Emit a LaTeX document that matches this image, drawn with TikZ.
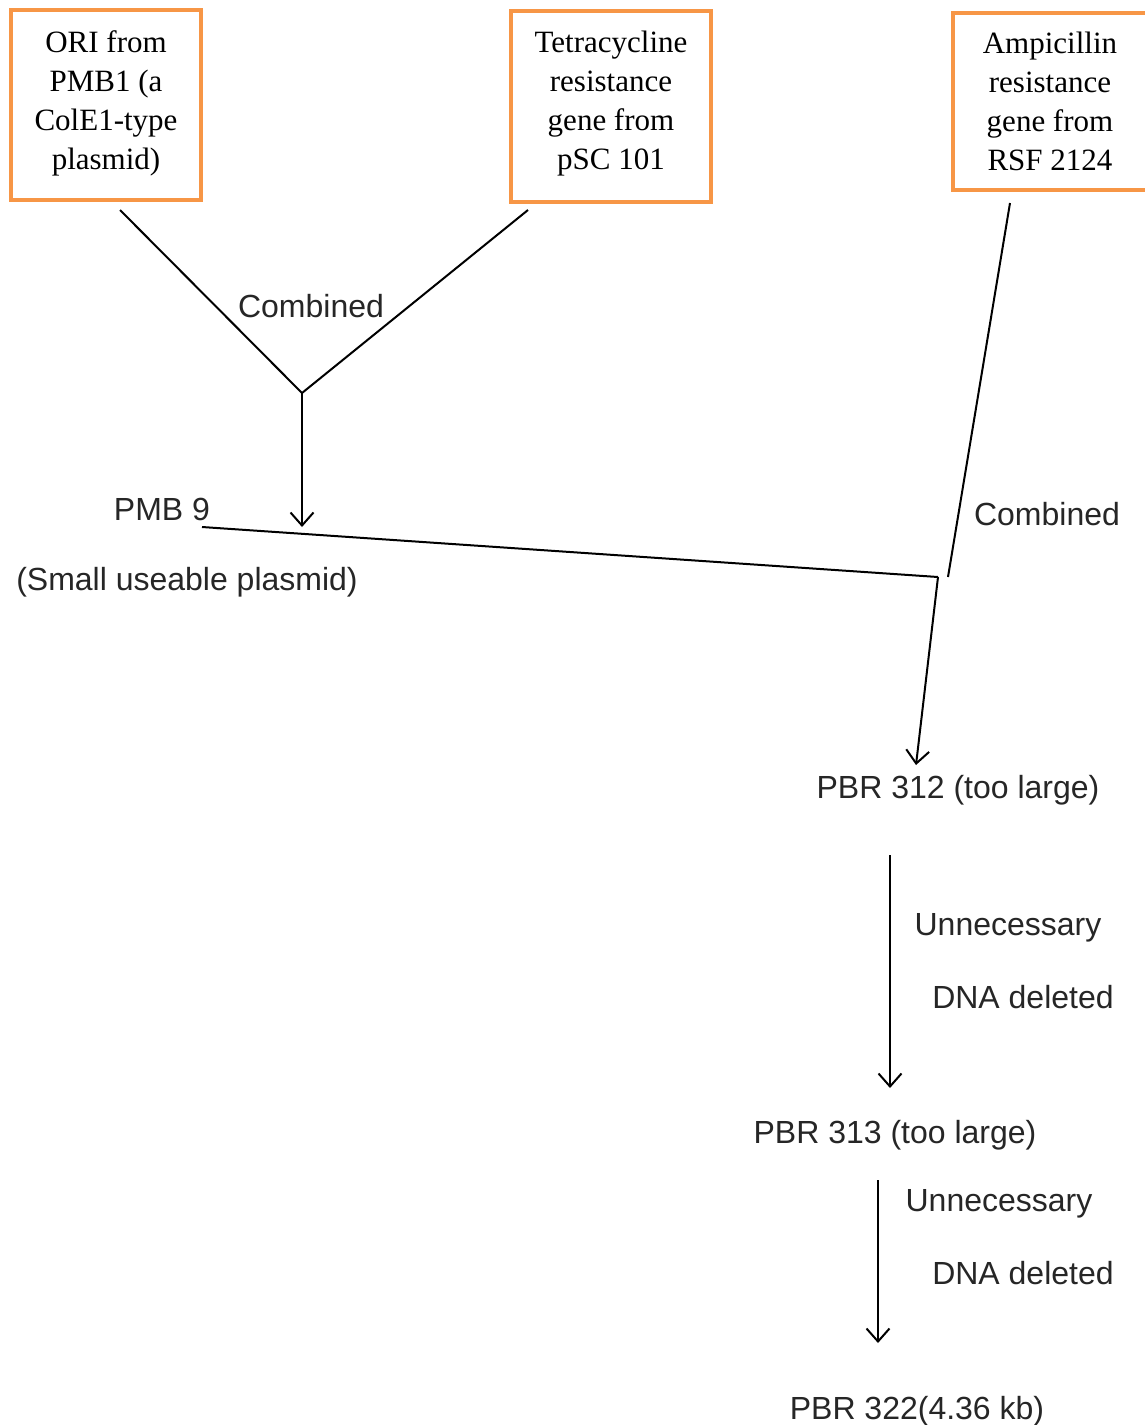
\documentclass[tikz,border=0pt]{standalone}
\usepackage{fontspec}
\setmainfont{Liberation Serif}
\newfontfamily\labelfont{Liberation Sans}
\usetikzlibrary{arrows.meta}
\definecolor{boxorange}{HTML}{F79646}
\tikzstyle{genebox} = [draw=boxorange, line width=2pt, rectangle, align=center,
    inner sep=0pt, font=\fontsize{15.5}{19.5}\selectfont]
\tikzstyle{steplabel} = [font=\labelfont\fontsize{16}{19}\selectfont, text=black!85, inner sep=0pt, yshift=-1.5pt]
\tikzstyle{link} = [line width=1pt]
\tikzstyle{flow} = [line width=1pt, -{Straight Barb[length=6.5pt,width=11.5pt]}]

\begin{document}
\begin{tikzpicture}[x=0.5pt, y=-0.5pt]
                \useasboundingbox (0,0) rectangle (1145,1425);
                % source genes
                \node [genebox, minimum width=95pt, minimum height=95pt, text depth=5pt] (ori) at (106,105)
                    {ORI from\\PMB1 (a\\ColE1-type\\plasmid)};
                \node [genebox, minimum width=100pt, minimum height=95.5pt, text depth=6pt] (tet) at (611,106.5)
                    {Tetracycline\\resistance\\gene from\\pSC 101};
                \node [genebox, minimum width=97pt, minimum height=88.5pt] (amp) at (1050,101.5)
                    {Ampicillin\\resistance\\gene from\\RSF 2124};
                % labels
                \node [steplabel] (comb1) at (311,303) {Combined};
                \node [steplabel] (pmb9) at (162,506) {PMB 9};
                \node [steplabel] (pmb9note) at (187,579) {(Small useable plasmid)};
                \node [steplabel] (comb2) at (1047,511) {Combined};
                \node [steplabel] (pbr312) at (958,787) {PBR 312 (too large)};
                \node [steplabel] (cut1a) at (1008,925) {Unnecessary};
                \node [steplabel] (cut1b) at (1023,994) {DNA deleted};
                \node [steplabel] (pbr313) at (895,1132) {PBR 313 (too large)};
                \node [steplabel] (cut2a) at (999,1201) {Unnecessary};
                \node [steplabel] (cut2b) at (1023,1270) {DNA deleted};
                \node [steplabel] (pbr322) at (917,1408) {PBR 322(4.36 kb)};
                % connector points
                \coordinate (oriend) at (120,210);
                \coordinate (tetend) at (528,210);
                \coordinate (ampend) at (1010,203);
                \coordinate (join1) at (302,393);
                \coordinate (pmb9in) at (302,527);
                \coordinate (pmb9out) at (202,527);
                \coordinate (join2) at (938,577);
                \coordinate (ampin) at (948,577);
                \coordinate (pbr312in) at (916,765);
                \coordinate (pbr312out) at (890,855);
                \coordinate (pbr313in) at (890,1088);
                \coordinate (pbr313out) at (878,1180);
                \coordinate (pbr322in) at (878,1343);
                \draw [link] (oriend) -- (join1) -- (tetend);
                \draw [flow] (join1) -- (pmb9in);
                \draw [link] (ampend) -- (ampin);
                \draw [link] (pmb9out) -- (join2);
                \draw [flow] (join2) -- (pbr312in);
                \draw [flow] (pbr312out) -- (pbr313in);
                \draw [flow] (pbr313out) -- (pbr322in);
            \end{tikzpicture}
\end{document}
